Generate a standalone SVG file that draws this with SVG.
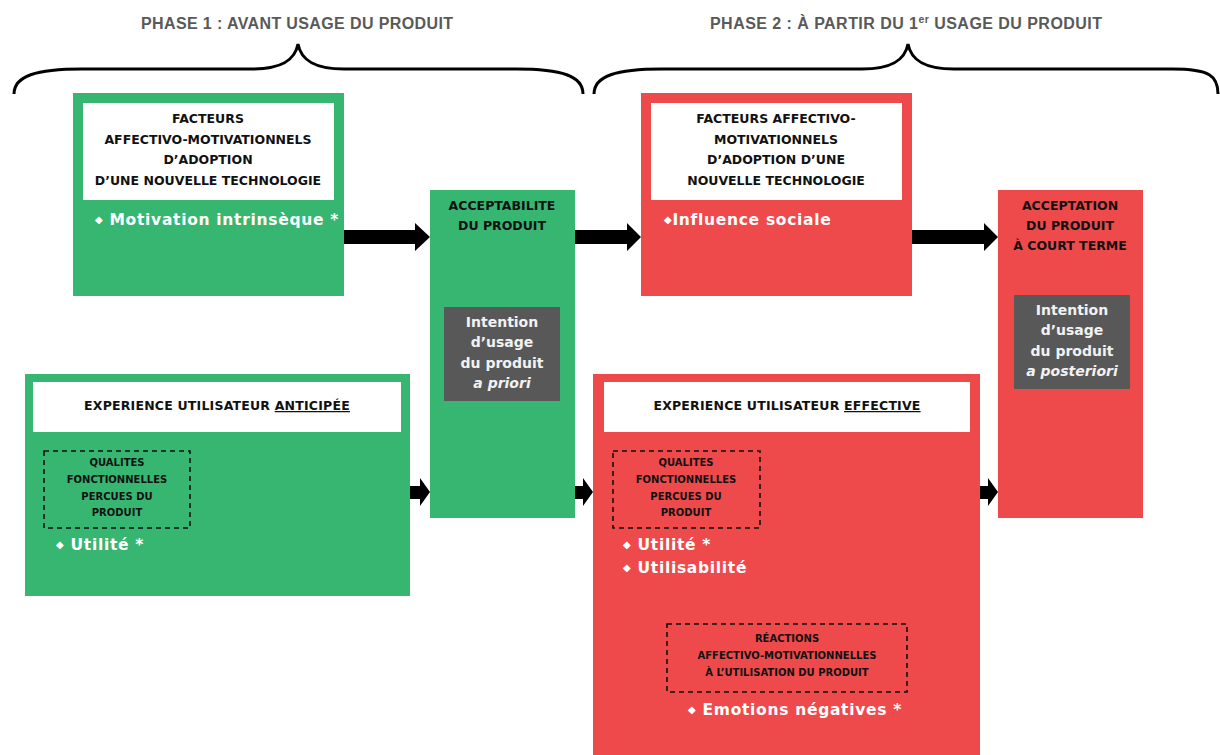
<svg xmlns="http://www.w3.org/2000/svg" width="1220" height="755" viewBox="0 0 1220 755">
<style>
.green{fill:#37B671}
.red{fill:#EF4A4B}
.white{fill:#FFFFFF}
.gray{fill:#585858}
.phase{font-family:"Liberation Sans",Arial,sans-serif;font-weight:bold;font-size:16px;fill:#595959}
.hd{font-family:"DejaVu Sans",sans-serif;font-weight:bold;font-size:12.5px;fill:#111;text-anchor:middle}
.sm{font-family:"DejaVu Sans",sans-serif;font-weight:bold;font-size:10px;fill:#111;text-anchor:middle}
.wt{font-family:"DejaVu Sans",sans-serif;font-weight:bold;font-size:15.5px;fill:#FFFFFF;letter-spacing:0.7px}
.it{font-family:"DejaVu Sans",sans-serif;font-weight:bold;font-size:14px;fill:#F2F2F2;text-anchor:middle}
.dash{fill:none;stroke:#111;stroke-width:1.6;stroke-dasharray:5 4}
.brace{fill:none;stroke:#000;stroke-width:3}
.arrow{fill:#000}
</style>

<g id="phase1">
<text class="phase" x="141" y="29" textLength="312">PHASE 1 : AVANT USAGE DU  PRODUIT</text>
<path class="brace" d="M14,94 C14,76 36,69 82,69 L252,69 C282,69 295,60 298,44 C301,60 314,69 344,69 L516,69 C562,69 583,76 583,94"/>
</g>
<g id="phase2">
<text class="phase" x="710" y="29" textLength="392">PHASE 2 : À PARTIR DU 1<tspan font-size="10.5" dy="-6">er</tspan><tspan dy="6"> USAGE DU PRODUIT</tspan></text>
<path class="brace" d="M594,94 C594,76 616,69 662,69 L862,69 C892,69 905,60 908,44 C911,60 924,69 954,69 L1172,69 C1210,69 1218,76 1218,94"/>
</g>

<g id="facteurs1">
<rect class="green" x="73" y="93" width="271" height="203"/>
<rect class="white" x="83" y="103" width="251" height="97"/>
<text class="hd" x="208" y="123">FACTEURS</text>
<text class="hd" x="208" y="144">AFFECTIVO-MOTIVATIONNELS</text>
<text class="hd" x="208" y="164">D’ADOPTION</text>
<text class="hd" x="208" y="185">D’UNE NOUVELLE TECHNOLOGIE</text>
<text class="wt" x="95" y="225" font-size="16"><tspan font-size="10" dy="-2">◆</tspan><tspan dy="2"> Motivation intrinsèque *</tspan></text>
</g>

<g id="acceptabilite">
<rect class="green" x="430" y="190" width="145" height="328"/>
<text class="hd" x="502" y="210" font-size="13">ACCEPTABILITE</text>
<text class="hd" x="502" y="230" font-size="13">DU PRODUIT</text>
<rect class="gray" x="444" y="307" width="116" height="94"/>
<text class="it" x="502" y="327">Intention</text>
<text class="it" x="502" y="347">d’usage</text>
<text class="it" x="502" y="368">du produit</text>
<text class="it" x="502" y="388" font-style="italic">a priori</text>
</g>

<g id="facteurs2">
<rect class="red" x="641" y="93" width="271" height="203"/>
<rect class="white" x="651" y="103" width="251" height="97"/>
<text class="hd" x="776" y="123">FACTEURS AFFECTIVO-</text>
<text class="hd" x="776" y="143.5">MOTIVATIONNELS</text>
<text class="hd" x="776" y="164">D’ADOPTION  D’UNE</text>
<text class="hd" x="776" y="184.5">NOUVELLE TECHNOLOGIE</text>
<text class="wt" x="664" y="225"><tspan font-size="10" dy="-2">◆</tspan><tspan dy="2">Influence sociale</tspan></text>
</g>

<g id="acceptation">
<rect class="red" x="998" y="190" width="145" height="328"/>
<text class="hd" x="1070" y="210" font-size="13">ACCEPTATION</text>
<text class="hd" x="1070" y="230" font-size="13">DU PRODUIT</text>
<text class="hd" x="1070" y="250" font-size="13">À COURT TERME</text>
<rect class="gray" x="1014" y="295" width="116" height="94"/>
<text class="it" x="1072" y="315">Intention</text>
<text class="it" x="1072" y="335">d’usage</text>
<text class="it" x="1072" y="356">du produit</text>
<text class="it" x="1072" y="376" font-style="italic">a posteriori</text>
</g>

<g id="experience1">
<rect class="green" x="25" y="374" width="385" height="222"/>
<rect class="white" x="33" y="382" width="368" height="50"/>
<text class="hd" x="217" y="410" font-size="13" letter-spacing="0.2">EXPERIENCE UTILISATEUR <tspan text-decoration="underline">ANTICIPÉE</tspan></text>
<rect class="dash" x="44" y="451" width="146" height="77"/>
<text class="sm" x="117" y="466">QUALITES</text>
<text class="sm" x="117" y="483">FONCTIONNELLES</text>
<text class="sm" x="117" y="500">PERCUES DU</text>
<text class="sm" x="117" y="516">PRODUIT</text>
<text class="wt" x="56" y="550"><tspan font-size="10" dy="-2">◆</tspan><tspan dy="2"> Utilité *</tspan></text>
</g>

<g id="experience2">
<rect class="red" x="593" y="374" width="387" height="381"/>
<rect class="white" x="604" y="382" width="366" height="50"/>
<text class="hd" x="787" y="410" font-size="13" letter-spacing="0.2">EXPERIENCE UTILISATEUR <tspan text-decoration="underline">EFFECTIVE</tspan></text>
<rect class="dash" x="613" y="451" width="147" height="77"/>
<text class="sm" x="686" y="466">QUALITES</text>
<text class="sm" x="686" y="483">FONCTIONNELLES</text>
<text class="sm" x="686" y="500">PERCUES DU</text>
<text class="sm" x="686" y="516">PRODUIT</text>
<text class="wt" x="623" y="550"><tspan font-size="10" dy="-2">◆</tspan><tspan dy="2"> Utilité *</tspan></text>
<text class="wt" x="623" y="573"><tspan font-size="10" dy="-2">◆</tspan><tspan dy="2"> Utilisabilité</tspan></text>
<rect class="dash" x="667" y="624" width="240" height="68"/>
<text class="sm" x="787" y="642">RÉACTIONS</text>
<text class="sm" x="787" y="659">AFFECTIVO-MOTIVATIONNELLES</text>
<text class="sm" x="787" y="676">À L’UTILISATION  DU PRODUIT</text>
<text class="wt" x="688" y="715"><tspan font-size="10" dy="-2">◆</tspan><tspan dy="2"> Emotions négatives *</tspan></text>
</g>

<g id="connectors">
<polygon class="arrow" points="344,230 415,230 415,223 430,237 415,251 415,244 344,244"/>
<polygon class="arrow" points="575,230 627,230 627,223 641,237 627,251 627,244 575,244"/>
<polygon class="arrow" points="912,230 984,230 984,223 998,237 984,251 984,244 912,244"/>
<polygon class="arrow" points="410,486 420,486 420,478 430,492 420,506 420,499 410,499"/>
<polygon class="arrow" points="575,486 583,486 583,478 593,492 583,506 583,499 575,499"/>
<polygon class="arrow" points="980,486 988,486 988,478 998,492 988,506 988,499 980,499"/>
</g>
</svg>
